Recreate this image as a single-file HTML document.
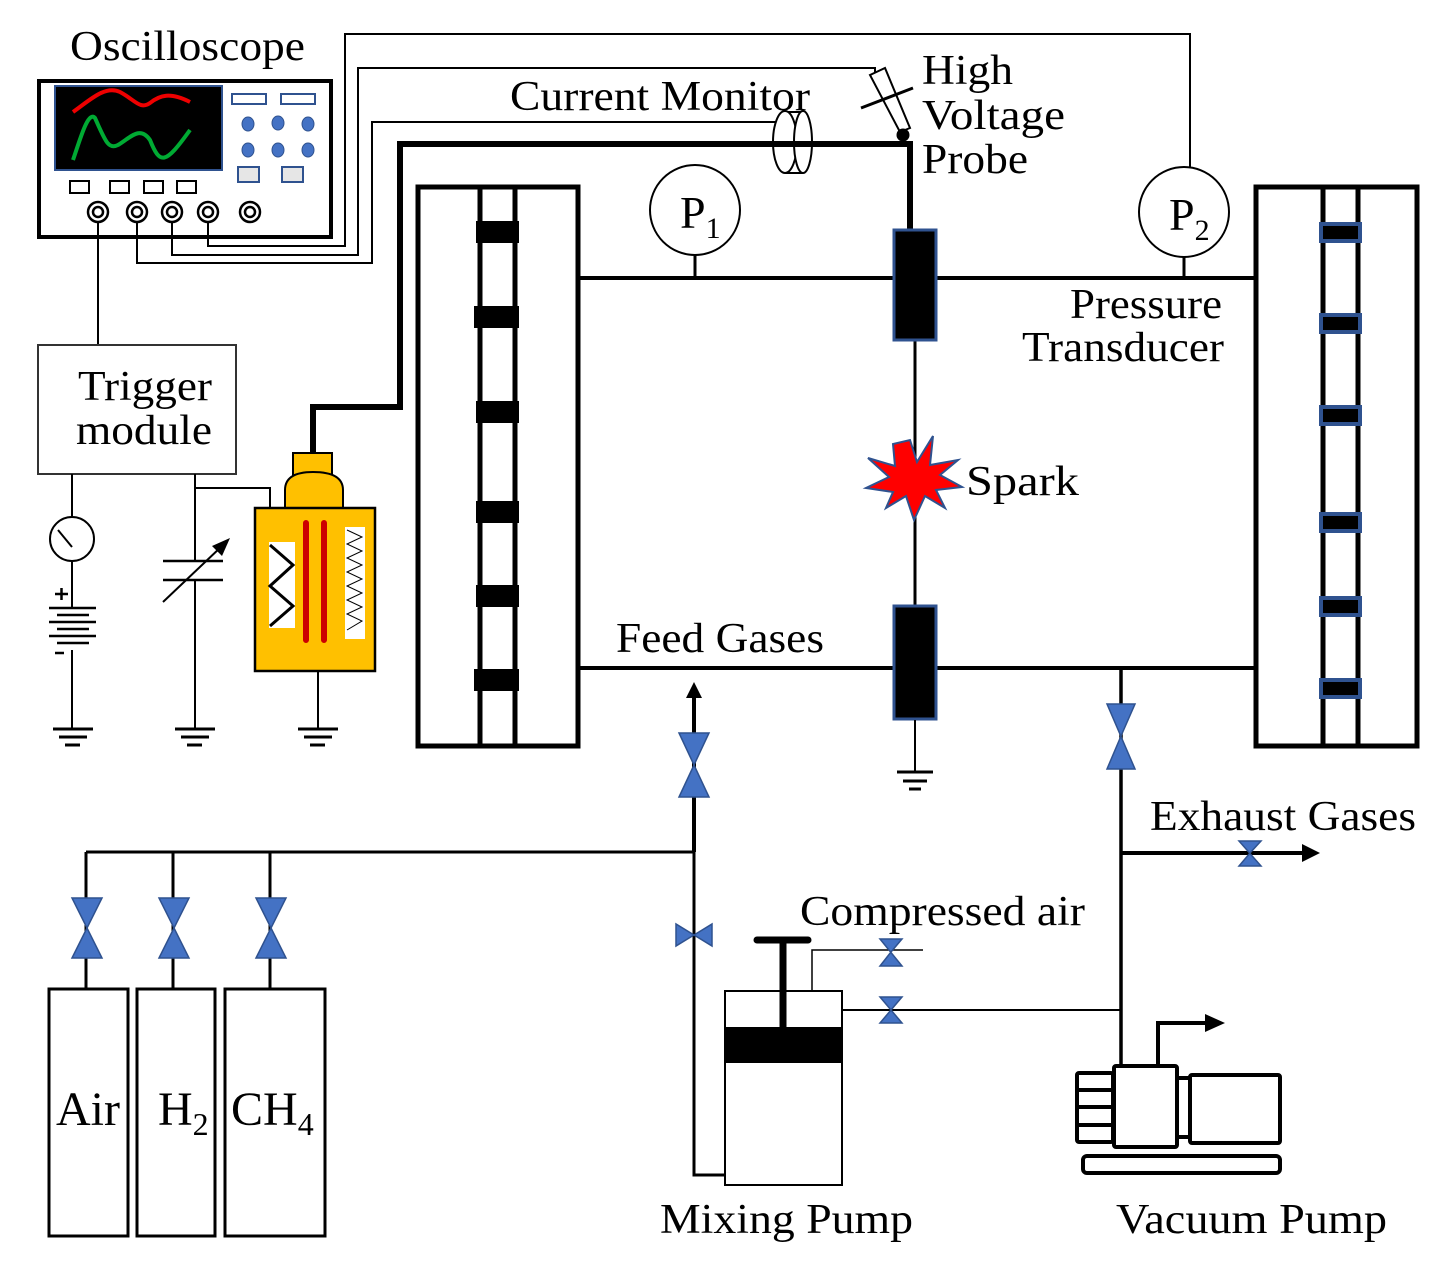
<!DOCTYPE html>
<html><head><meta charset="utf-8"><style>
html,body{margin:0;padding:0;background:#fff}
svg{display:block}
text{font-family:"Liberation Serif",serif;fill:#000}
</style></head><body>
<svg width="1451" height="1274" viewBox="0 0 1451 1274" xmlns="http://www.w3.org/2000/svg">
<defs>
<marker id="ah" viewBox="0 0 10 10" refX="5" refY="5" markerWidth="4" markerHeight="4" orient="auto"><path d="M0,0 L10,5 L0,10 z" fill="#000"/></marker>
</defs>
<g fill="none" stroke="#000">
<!-- oscilloscope -->
<rect x="39" y="81" width="292" height="156" stroke-width="4"/>
<rect x="55" y="86" width="167" height="84" fill="#000" stroke="#2f528f" stroke-width="2"/>
<path d="M73,112 C90,100 105,85 120,92 C135,100 140,110 150,103 C160,95 170,92 190,102" stroke="#e00" stroke-width="4"/>
<path d="M73,160 C80,140 88,110 95,118 C105,140 108,150 118,145 C130,138 140,125 150,140 C160,165 165,165 190,130" stroke="#0a3" stroke-width="4"/>
<rect x="232" y="94" width="34" height="10" stroke="#2f528f" stroke-width="2"/>
<rect x="281" y="94" width="34" height="10" stroke="#2f528f" stroke-width="2"/>
<g fill="#4472c4" stroke="#2f528f" stroke-width="1">
<ellipse cx="248" cy="124" rx="6" ry="7"/><ellipse cx="278" cy="123" rx="6" ry="7"/><ellipse cx="308" cy="124" rx="6" ry="7"/>
<ellipse cx="248" cy="150" rx="6" ry="7"/><ellipse cx="278" cy="150" rx="6" ry="7"/><ellipse cx="308" cy="150" rx="6" ry="7"/>
</g>
<rect x="238" y="167" width="21" height="15" fill="#e6e6e6" stroke="#2f528f" stroke-width="2"/>
<rect x="282" y="167" width="21" height="15" fill="#e6e6e6" stroke="#2f528f" stroke-width="2"/>
<g stroke-width="2"><rect x="70" y="181" width="19" height="12"/><rect x="110" y="181" width="19" height="12"/><rect x="144" y="181" width="19" height="12"/><rect x="177" y="181" width="19" height="12"/></g>
<g stroke-width="2.5"><circle cx="98" cy="212" r="10"/><circle cx="98" cy="212" r="5"/>
<circle cx="137" cy="212" r="10"/><circle cx="137" cy="212" r="5"/>
<circle cx="172" cy="212" r="10"/><circle cx="172" cy="212" r="5"/>
<circle cx="208" cy="212" r="10"/><circle cx="208" cy="212" r="5"/>
<circle cx="250" cy="212" r="10"/><circle cx="250" cy="212" r="5"/></g>
<!-- signal wires -->
<g stroke-width="2">
<path d="M98,222 V345"/>
<path d="M137,222 V263 H372 V122 H780"/>
<path d="M172,222 V255 H358 V68 H875 V80"/>
<path d="M208,222 V246 H345 V34 H1190 V168"/>
</g>
<!-- thick HV wire -->
<path d="M313,452 V407 H400 V144 H910 V230" stroke-width="6"/>
<!-- current monitor -->
<path d="M785,112 H803 M785,173 H803" stroke-width="2"/>
<ellipse cx="785" cy="142" rx="12" ry="31" fill="#fff" stroke-width="2"/>
<ellipse cx="803" cy="142" rx="9" ry="31" fill="#fff" stroke-width="2"/>
<path d="M774,144 H815" stroke-width="6"/>
<!-- HV probe -->
<polygon points="870,75 885,68 910,128 900,132" fill="#fff" stroke-width="2"/>
<path d="M861,108 L913,88" stroke-width="3"/>
<circle cx="903" cy="135" r="6" fill="#000"/>
<!-- P circles -->
<circle cx="695" cy="210" r="45" stroke-width="2" fill="#fff"/>
<circle cx="1184" cy="212" r="45" stroke-width="2" fill="#fff"/>
<path d="M695,255 V278 M1184,257 V278" stroke-width="3"/>
<!-- chamber lines -->
<path d="M578,278 H1256 M578,668 H1256" stroke-width="4"/>
<path d="M915,340 V606" stroke-width="3"/>
<!-- left electrode box -->
<rect x="418" y="187" width="160" height="559" stroke-width="5"/>
<path d="M480,187 V746 M515,187 V746" stroke-width="5"/>
<g fill="#000" stroke="none">
<rect x="476" y="221" width="43" height="22"/><rect x="474" y="306" width="45" height="22"/><rect x="476" y="401" width="43" height="22"/>
<rect x="476" y="501" width="43" height="22"/><rect x="476" y="585" width="43" height="22"/><rect x="474" y="669" width="45" height="22"/>
</g>
<!-- right electrode box -->
<rect x="1256" y="187" width="161" height="559" stroke-width="5"/>
<path d="M1323,187 V746 M1358,187 V746" stroke-width="5"/>
<g fill="#000" stroke="#2f528f" stroke-width="4">
<rect x="1321" y="224" width="39" height="17"/><rect x="1321" y="315" width="39" height="17"/><rect x="1321" y="407" width="39" height="17"/>
<rect x="1321" y="514" width="39" height="17"/><rect x="1321" y="598" width="39" height="17"/><rect x="1321" y="680" width="39" height="17"/>
</g>
<!-- center electrodes -->
<rect x="894" y="230" width="42" height="110" fill="#000" stroke="#2f528f" stroke-width="3"/>
<rect x="894" y="606" width="42" height="113" fill="#000" stroke="#2f528f" stroke-width="3"/>
<path d="M915,720 V772" stroke-width="2"/>
<path d="M897,772 H933 M903,781 H927 M909,789 H921" stroke-width="3"/>
<!-- spark -->
<polygon points="910,440 917,462 933,436 930,465 958,460 940,475 962,487 936,490 945,508 925,496 914,520 906,496 886,508 893,492 866,488 889,477 868,458 895,466 893,444" fill="#f00" stroke="#2f528f" stroke-width="2"/>
<!-- trigger module -->
<rect x="38" y="345" width="198" height="129" stroke="#333" stroke-width="2"/>
<path d="M72,474 V517 M72,561 V608 M72,650 V728" stroke-width="2"/>
<circle cx="72" cy="539" r="22" stroke-width="2"/>
<path d="M58,530 L72,547" stroke-width="2"/>
<path d="M49,608 H96 M57,615 H89 M49,622 H96 M57,629 H89 M49,636 H96 M57,643 H89" stroke-width="2.5"/>
<path d="M55,594 H68 M61.5,588 V600 M55,653 H64" stroke-width="2.5"/>
<path d="M195,474 V561 M195,580 V728 M195,488 H270 V508" stroke-width="2"/>
<path d="M163,561 H223 M163,580 H223" stroke-width="2.5"/>
<path d="M163,602 L222,546" stroke-width="2"/>
<polygon points="230,538 212,546 222,556" fill="#000" stroke="none"/>
<!-- grounds -->
<g stroke-width="3">
<path d="M53,729 H93 M59,737 H87 M65,745 H80"/>
<path d="M175,729 H215 M181,737 H209 M187,745 H202"/>
<path d="M298,729 H338 M304,737 H332 M310,745 H325"/>
</g>
<path d="M318,672 V729" stroke-width="2"/>
<!-- ignition coil -->
<rect x="293" y="453" width="39" height="22" fill="#ffc000" stroke-width="2"/>
<path d="M285,508 V490 Q285,472 313,472 Q343,472 343,490 V508" fill="#ffc000" stroke-width="2"/>
<rect x="255" y="508" width="120" height="163" fill="#ffc000" stroke-width="2.5"/>
<rect x="269" y="542" width="26" height="86" fill="#fff" stroke="none"/>
<path d="M270,545 L293,565 L270,586 L293,606 L270,626" stroke-width="3"/>
<rect x="345" y="527" width="20" height="112" fill="#fff" stroke="none"/>
<path d="M347,530 L362,537 L347,544 L362,551 L347,558 L362,565 L347,572 L362,579 L347,586 L362,593 L347,600 L362,607 L347,614 L362,621 L347,630" stroke-width="1"/>
<path d="M306,523 V640 M324,523 V640" stroke="#c00" stroke-width="6" stroke-linecap="round"/>
<!-- feed gas lines -->
<path d="M694,852 V690" stroke-width="4" marker-end="url(#ah)"/>
<path d="M86,852 H694 V1175 H725" stroke-width="3"/>
<path d="M86,852 V988 M173,852 V988 M270,852 V988" stroke-width="3"/>
<!-- cylinders -->
<rect x="49" y="989" width="79" height="247" stroke-width="3"/>
<rect x="137" y="989" width="78" height="247" stroke-width="3"/>
<rect x="225" y="989" width="100" height="247" stroke-width="3"/>
<!-- mixing pump -->
<rect x="725" y="991" width="117" height="194" stroke-width="2"/>
<rect x="725" y="1027" width="117" height="36" fill="#000" stroke="none"/>
<path d="M783,940 V1027" stroke-width="7"/>
<path d="M757,940 H808" stroke-width="7" stroke-linecap="round"/>
<path d="M812,991 V950 H923" stroke-width="1.5"/>
<path d="M842,1010 H1121" stroke-width="2"/>
<!-- exhaust/vacuum -->
<path d="M1121,668 V1066" stroke-width="3.5"/>
<path d="M1121,853 H1305" stroke-width="4"/>
<polygon points="1302,844 1320,853 1302,862" fill="#000" stroke="none"/>
<!-- vacuum pump -->
<g stroke-width="4">
<rect x="1077" y="1073" width="36" height="69" rx="2"/>
<path d="M1077,1090 H1113 M1077,1107 H1113 M1077,1125 H1113"/>
<rect x="1114" y="1066" width="63" height="81" rx="2" fill="#fff"/>
<rect x="1177" y="1078" width="13" height="59"/>
<rect x="1190" y="1075" width="90" height="68" rx="2"/>
<rect x="1083" y="1156" width="197" height="17" rx="4"/>
<path d="M1158,1066 V1023 H1210"/>
</g>
<polygon points="1205,1014 1225,1023 1205,1032" fill="#000" stroke="none"/>
</g>
<!-- valves -->
<g fill="#4472c4" stroke="#2f528f" stroke-width="1.5">
<polygon points="679,733 709,733 694,765 679,797 709,797"/>
<polygon points="1107,704 1135,704 1121,736 1107,769 1135,769"/>
<polygon points="72,898 102,898 87,928 72,958 102,958"/>
<polygon points="159,898 189,898 174,928 159,958 189,958"/>
<polygon points="256,898 286,898 271,928 256,958 286,958"/>
<polygon points="1239,841 1261,841 1250,853 1239,866 1261,866"/>
<polygon points="880,939 902,939 891,952 880,966 902,966"/>
<polygon points="880,997 902,997 891,1010 880,1023 902,1023"/>
<polygon points="676,924 676,946 694,935 712,924 712,946"/>
</g>
<!-- texts -->
<g font-size="42">
<text x="70" y="60" textLength="235" lengthAdjust="spacingAndGlyphs">Oscilloscope</text>
<text x="510" y="110" textLength="300" lengthAdjust="spacingAndGlyphs">Current Monitor</text>
<text x="922" y="84" textLength="91" lengthAdjust="spacingAndGlyphs">High</text>
<text x="922" y="129" textLength="143" lengthAdjust="spacingAndGlyphs">Voltage</text>
<text x="922" y="173" textLength="106" lengthAdjust="spacingAndGlyphs">Probe</text>
<text x="1070" y="318" textLength="152" lengthAdjust="spacingAndGlyphs">Pressure</text>
<text x="1022" y="361" textLength="202" lengthAdjust="spacingAndGlyphs">Transducer</text>
<text x="78" y="400" textLength="134" lengthAdjust="spacingAndGlyphs">Trigger</text>
<text x="76" y="444" textLength="136" lengthAdjust="spacingAndGlyphs">module</text>
<text x="966" y="495" textLength="113" lengthAdjust="spacingAndGlyphs">Spark</text>
<text x="616" y="652" textLength="208" lengthAdjust="spacingAndGlyphs">Feed Gases</text>
<text x="1150" y="830" textLength="266" lengthAdjust="spacingAndGlyphs">Exhaust Gases</text>
<text x="800" y="925" textLength="285" lengthAdjust="spacingAndGlyphs">Compressed air</text>
<text x="660" y="1233" textLength="253" lengthAdjust="spacingAndGlyphs">Mixing Pump</text>
<text x="1116" y="1233" textLength="271" lengthAdjust="spacingAndGlyphs">Vacuum Pump</text>
<text x="56" y="1125" font-size="48">Air</text>
<text x="158" y="1125" font-size="48">H<tspan font-size="32" dy="10">2</tspan></text>
<text x="231" y="1125" font-size="48">CH<tspan font-size="32" dy="10">4</tspan></text>
<text x="680" y="228" font-size="46">P<tspan font-size="30" dy="10">1</tspan></text>
<text x="1169" y="230" font-size="46">P<tspan font-size="30" dy="10">2</tspan></text>
</g>
</svg>
</body></html>
